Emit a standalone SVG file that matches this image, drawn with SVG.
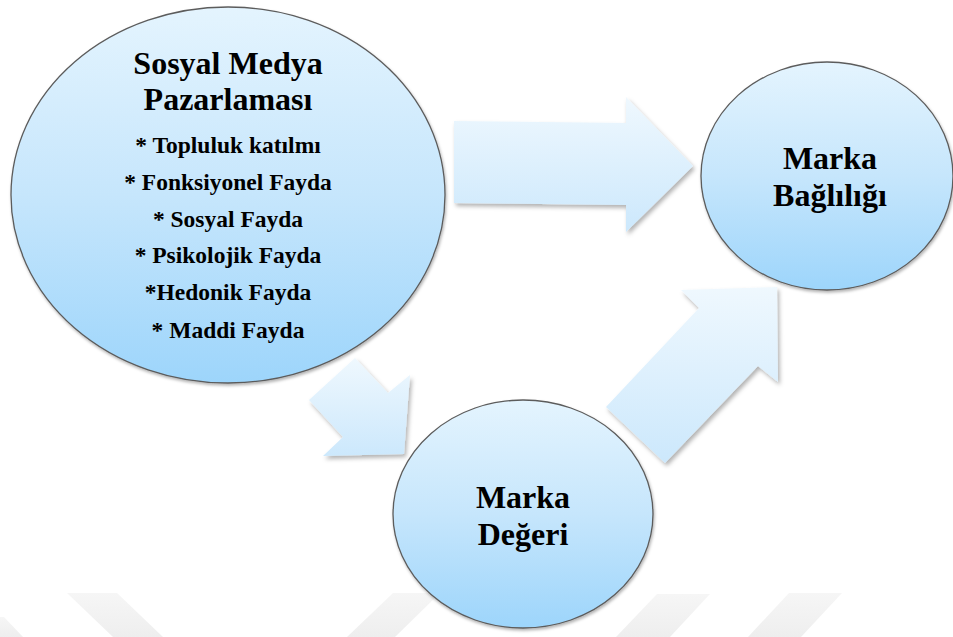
<svg xmlns="http://www.w3.org/2000/svg" width="953" height="637" viewBox="0 0 953 637">
  <defs>
    <linearGradient id="gEll" x1="0" y1="0" x2="0" y2="1">
      <stop offset="0" stop-color="#e4f4fe"/>
      <stop offset="0.5" stop-color="#c6e6fc"/>
      <stop offset="1" stop-color="#9dd5fb"/>
    </linearGradient>
    <linearGradient id="gArr" x1="0" y1="0" x2="0" y2="1">
      <stop offset="0" stop-color="#eff8fe"/>
      <stop offset="1" stop-color="#cce8fc"/>
    </linearGradient>
    <linearGradient id="gWm" x1="0" y1="0" x2="0" y2="1">
      <stop offset="0" stop-color="#f6f6f6"/>
      <stop offset="1" stop-color="#eeeeee"/>
    </linearGradient>
    <filter id="shArr" x="-10%" y="-10%" width="125%" height="125%">
      <feDropShadow dx="2" dy="3" stdDeviation="2" flood-color="#000" flood-opacity="0.3"/>
    </filter>
    <filter id="shEll" x="-10%" y="-10%" width="125%" height="125%">
      <feDropShadow dx="1" dy="2" stdDeviation="1.5" flood-color="#000" flood-opacity="0.3"/>
    </filter>
  </defs>
  <style>
    .ell { fill: url(#gEll); stroke: #5c5c5c; stroke-width: 1.3; filter: url(#shEll); }
    .arr { fill: url(#gArr); stroke: none; filter: url(#shArr); }
    .wm { fill: url(#gWm); }
    .t { font-family: "Liberation Serif", "Times New Roman", serif; font-weight: bold; fill: #000; text-anchor: middle; }
    .title { font-size: 32px; }
    .item { font-size: 23.5px; }
  </style>
  <rect width="953" height="637" fill="#ffffff"/>
  <g id="watermark">
    <polygon class="wm" points="0,617 4,617 23,637 0,637"/>
    <polygon class="wm" points="67,593 117,593 163,637 113,637"/>
    <polygon class="wm" points="393,593 440,593 395,637 347,637"/>
    <polygon class="wm" points="657,594 710,594 670,637 616,637"/>
    <polygon class="wm" points="789,593 842,593 801,637 748,637"/>
  </g>
  <g id="connectors">
    <polygon id="arrow-smp-bag" class="arr" points="454,121 626,123 626,97 693,166 626,232 626,205 454,203"/>
    <polygon id="arrow-smp-deg" class="arr" points="355,358 388,393 410,375 404,454 323,456 343,437 309,400"/>
    <polygon id="arrow-deg-bag" class="arr" points="777,287 778,382 758,366 665,463 606,407 699,308 681,290"/>
  </g>
  <g id="node-smp">
    <ellipse class="ell" cx="228" cy="195" rx="217" ry="188"/>
    <text class="t title" x="228" y="74">Sosyal Medya</text>
    <text class="t title" x="228" y="110">Pazarlaması</text>
    <text class="t item" x="228" y="153">* Topluluk katılmı</text>
    <text class="t item" x="228" y="190">* Fonksiyonel Fayda</text>
    <text class="t item" x="228" y="227">* Sosyal Fayda</text>
    <text class="t item" x="228" y="263">* Psikolojik Fayda</text>
    <text class="t item" x="228" y="300">*Hedonik Fayda</text>
    <text class="t item" x="228" y="338">* Maddi Fayda</text>
  </g>
  <g id="node-bagliligi">
    <ellipse class="ell" cx="827" cy="176" rx="126" ry="114"/>
    <text class="t title" x="830" y="169">Marka</text>
    <text class="t title" x="830" y="206">Bağlılığı</text>
  </g>
  <g id="node-degeri">
    <ellipse class="ell" cx="523" cy="514" rx="130" ry="114"/>
    <text class="t title" x="523" y="508">Marka</text>
    <text class="t title" x="523" y="545">Değeri</text>
  </g>
</svg>
